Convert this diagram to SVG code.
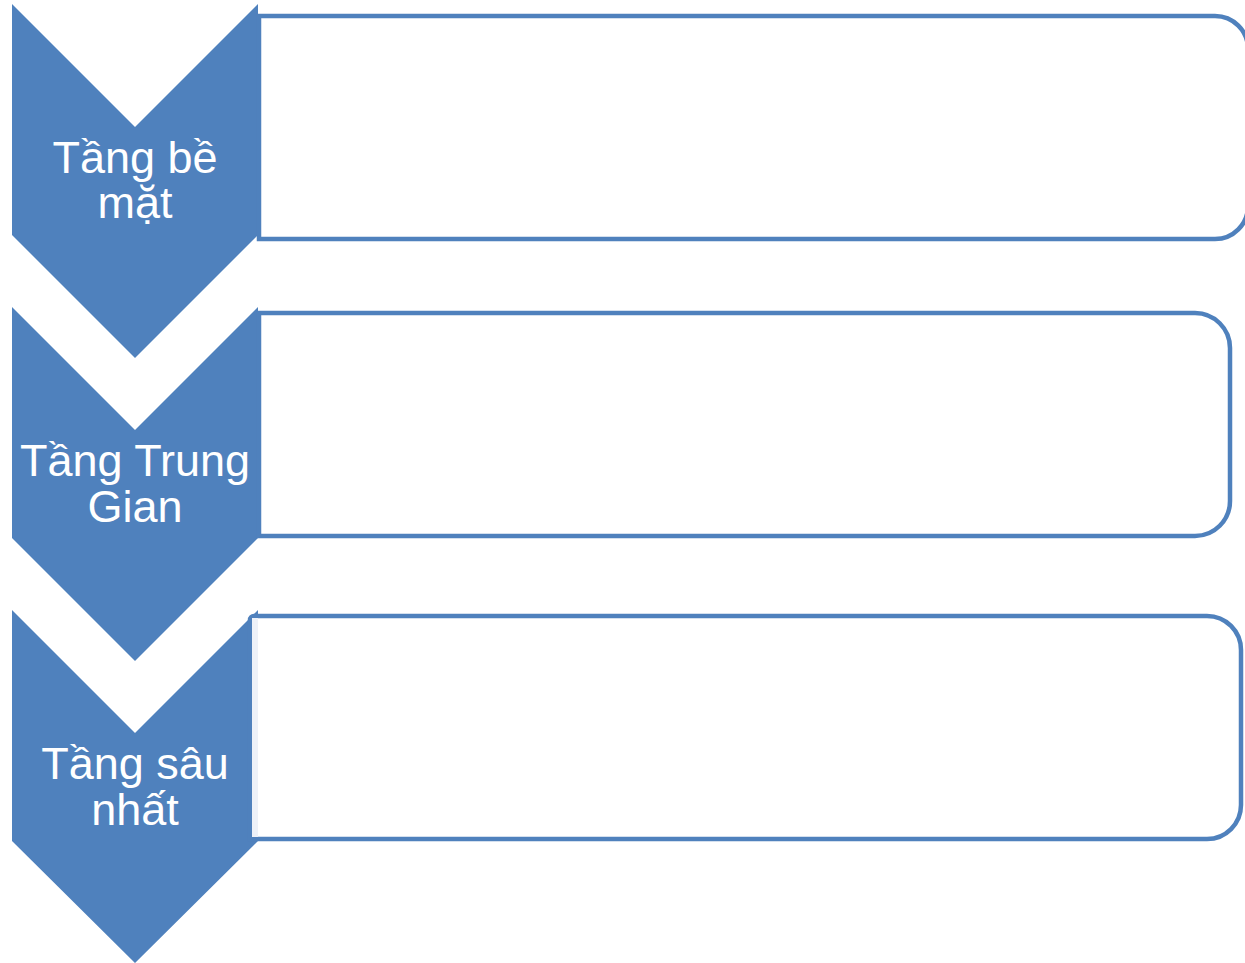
<svg xmlns="http://www.w3.org/2000/svg" width="1245" height="963" viewBox="0 0 1245 963">
<style>
.chev{fill:#4f81bd;}
.box{fill:#ffffff;stroke:#4f81bd;stroke-width:4.5;}
.lbl{font-family:"Liberation Sans",Arial,sans-serif;font-size:45px;fill:#ffffff;text-anchor:middle;}
</style>
<rect width="1245" height="963" fill="#ffffff"/>
<g id="node1">
<polygon class="chev" points="12,4 135,127 258,4 258,235 135,358 12,235"/>
<path class="box" d="M259,16 H1215 A33,33 0 0 1 1248,49 V206 A33,33 0 0 1 1215,239 H259 Z"/>
<text class="lbl" x="135" y="173">Tầng bề</text>
<text class="lbl" x="135" y="218">mặt</text>
</g>
<g id="node2">
<polygon class="chev" points="12,307 135,430 258,307 258,538 135,661 12,538"/>
<path class="box" d="M259,313 H1195 A35,35 0 0 1 1230,348 V501 A35,35 0 0 1 1195,536 H259 Z"/>
<text class="lbl" x="135" y="476">Tầng Trung</text>
<text class="lbl" x="135" y="522">Gian</text>
</g>
<g id="node3">
<polygon class="chev" points="12,610 135,733 258,610 258,841 135,963 12,841"/>
<path class="box" d="M254,616 H1207 A34,34 0 0 1 1241,650 V805 A34,34 0 0 1 1207,839 H250 V620 A4,4 0 0 1 254,616 Z"/>
<rect x="252" y="618" width="6" height="219" fill="#edf1f8"/>
<text class="lbl" x="135" y="779">Tầng sâu</text>
<text class="lbl" x="135" y="825">nhất</text>
</g>
<g id="connectors"></g>
</svg>
